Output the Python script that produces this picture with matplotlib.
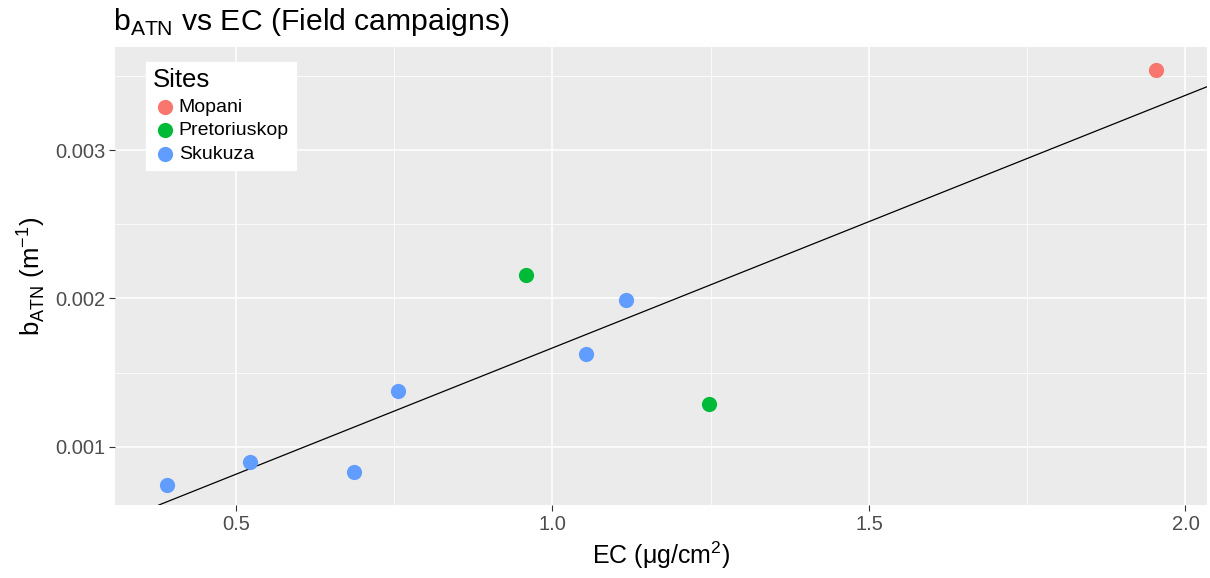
import numpy as np
import matplotlib
matplotlib.use("Agg")
import matplotlib.pyplot as plt
from matplotlib.ticker import MultipleLocator

plt.rcParams['font.family'] = ['Liberation Sans', 'DejaVu Sans']
plt.rcParams['mathtext.fontset'] = 'custom'
plt.rcParams['mathtext.rm'] = 'Liberation Sans'

# EC loading (ug/cm2) and attenuation coefficient (1/m) per site
sites = ['Mopani', 'Pretoriuskop', 'Skukuza']
site_colors = ['#F8766D', '#00BA38', '#619CFF']
mopani_ec = [1.953]
mopani_batn = [0.00354]
pretoriuskop_ec = [0.958, 1.247]
pretoriuskop_batn = [0.00216, 0.00129]
skukuza_ec = [0.391, 0.522, 0.686, 0.756, 1.053, 1.116]
skukuza_batn = [0.000744, 0.000899, 0.000832, 0.001377, 0.001626, 0.001993]

ec_all = np.array(mopani_ec + pretoriuskop_ec + skukuza_ec)
batn_all = np.array(mopani_batn + pretoriuskop_batn + skukuza_batn)

fig = plt.figure(figsize=(12.1, 5.78), dpi=100)
ax = fig.add_axes([115 / 1210, 1 - 505 / 578, 1092 / 1210, 458 / 578])
ax.set_facecolor('#EBEBEB')
for s in ax.spines.values():
    s.set_visible(False)

ax.set_xlim(0.309, 2.034)
ax.set_ylim(0.000609, 0.003694)
ax.xaxis.set_major_locator(MultipleLocator(0.5))
ax.xaxis.set_minor_locator(MultipleLocator(0.25))
ax.yaxis.set_major_locator(MultipleLocator(0.001))
ax.yaxis.set_minor_locator(MultipleLocator(0.0005))
ax.grid(which='major', color='white', linewidth=1.1)
ax.grid(which='minor', color='white', linewidth=0.55)
ax.set_axisbelow(True)

ax.xaxis.set_major_formatter(plt.FuncFormatter(lambda v, p: f'{v:.1f}'))
ax.yaxis.set_major_formatter(plt.FuncFormatter(lambda v, p: f'{v:.3f}'))
ax.tick_params(which='major', length=4, color='#333333', labelcolor='#4D4D4D',
               labelsize=14.5, pad=3)
ax.tick_params(which='minor', length=0)

# least-squares line across the whole panel
slope, intercept = np.polyfit(ec_all, batn_all, 1)
ax.axline((0, intercept), slope=slope, color='black', linewidth=0.9, zorder=2)

groups = [(mopani_ec, mopani_batn), (pretoriuskop_ec, pretoriuskop_batn),
          (skukuza_ec, skukuza_batn)]
for name, col, (xs, ys) in zip(sites, site_colors, groups):
    ax.scatter(xs, ys, s=120, color=col, label=name, zorder=3, linewidths=0)

ax.set_xlabel('EC (μg/cm$^2$)', fontsize=18, labelpad=4)
ax.set_ylabel(r'b$_{\mathrm{ATN}}$ (m$^{-1}$)', fontsize=18.5, labelpad=6)
fig.text(113 / 1210, 1 - 22 / 578, r'b$_{\mathrm{ATN}}$ vs EC (Field campaigns)',
         fontsize=21.7, va='center', ha='left')

leg = ax.legend(title='Sites', loc='upper left', bbox_to_anchor=(0.028, 0.968),
                frameon=True, fontsize=14, title_fontsize=18.5, handletextpad=0.05,
                labelspacing=0.3, borderpad=0.35, handlelength=1.3,
                markerscale=1.0, borderaxespad=0)
leg.get_frame().set_facecolor('white')
leg.get_frame().set_edgecolor('white')
leg.get_frame().set_alpha(1)
leg.get_frame().set_boxstyle('square', pad=0)
leg._legend_box.align = 'left'

fig.savefig('out.png', dpi=100)
